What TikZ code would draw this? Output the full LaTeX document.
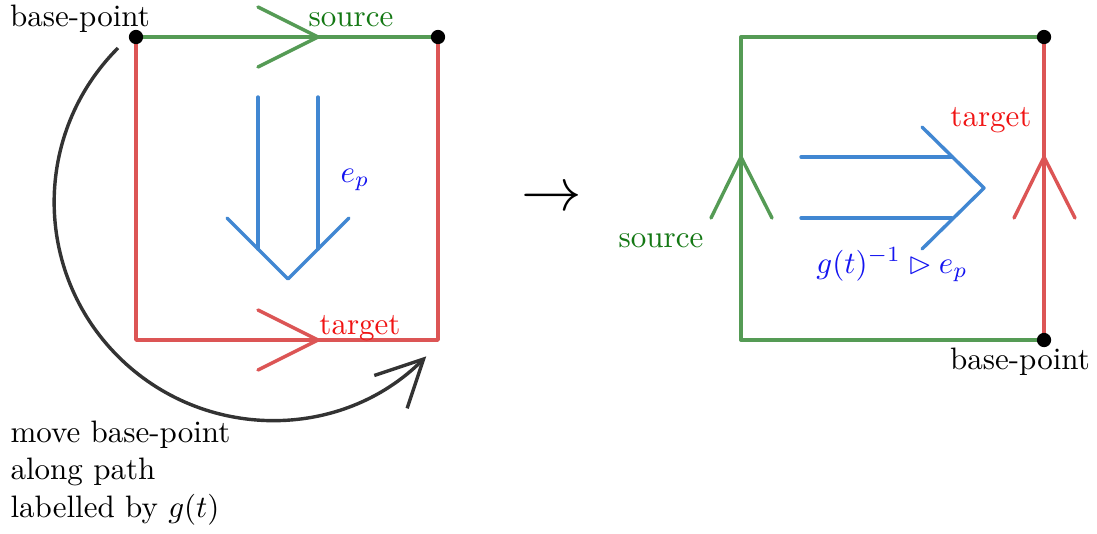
\documentclass[tikz,border=0pt]{standalone}
\usepackage{amssymb}
\usetikzlibrary{arrows.meta}
\definecolor{lgreen}{RGB}{85,155,85}
\definecolor{lred}{RGB}{220,85,85}
\definecolor{lblue}{RGB}{65,135,210}
\definecolor{tgreen}{RGB}{20,120,20}
\definecolor{tred}{RGB}{240,20,20}
\definecolor{tblue}{RGB}{20,20,240}
\begin{document}
\begin{tikzpicture}[x=0.3225pt,y=-0.3225pt,
  gline/.style={lgreen,line width=1.1pt,line cap=round,line join=round},
  rline/.style={lred,line width=1.1pt,line cap=round,line join=round},
  bline/.style={lblue,line width=1.1pt,line cap=round,line join=round},
  dot/.style={circle,fill=black,inner sep=0pt,minimum size=4.6pt},
  lbl/.style={inner sep=0pt}]
\useasboundingbox (0,0) rectangle (1097,533);
% ---------- left square ----------
\coordinate (A) at (136,37);
\coordinate (B) at (438,37);
\coordinate (C) at (438,340);
\coordinate (D) at (136,340);
\draw[rline] (A) -- (D) -- (C) -- (B);
\draw[gline] (A) -- (B);
\draw[gline] (258,7) -- (318,37) -- (258,67);
\draw[rline] (258,310) -- (318,340) -- (258,370);
% blue arrow down
\draw[bline] (258,97) -- (258,249);
\draw[bline] (318,97) -- (318,249);
\draw[bline] (227,218) -- (288,279) -- (349,218);
\node[dot] (dA) at (A) {};
\node[dot] (dB) at (B) {};
\node[lbl] (bp1) at (80,19) {base-point};
\node[lbl,text=tgreen] (src1) at (351,20) {source};
\node[lbl,text=tred] (tgt1) at (360,328) {target};
\node[lbl,text=tblue] (ep1) at (355,180) {$e_p$};
% curved arrow (semicircle)
\coordinate (arcS) at (118,48);
\draw[black!80,line width=1.1pt,-{Straight Barb[length=15pt,width=15pt,line width=1.1pt]}]
  (arcS) arc[start angle=225,end angle=45,radius=218];
\node[lbl,align=left,anchor=west] (mv) at (10,473)
  {move base-point\\along path\\labelled by $g(t)$};
% middle arrow
\node[lbl,scale=1.95] (to) at (552,199) {$\to$};
% ---------- right square ----------
\coordinate (E) at (741,37);
\coordinate (F) at (1044,37);
\coordinate (G) at (1044,340);
\coordinate (H) at (741,340);
\draw[rline] (F) -- (G);
\draw[gline] (F) -- (E) -- (H) -- (G);
\draw[gline] (711,218) -- (741,157) -- (772,218);
\draw[rline] (1014,218) -- (1044,157) -- (1075,218);
\draw[bline] (801,157) -- (952,157);
\draw[bline] (801,218) -- (952,218);
\draw[bline] (922,127) -- (984,188) -- (922,249);
\node[dot] (dF) at (F) {};
\node[dot] (dG) at (G) {};
\node[lbl,text=tred] (tgt2) at (991,120) {target};
\node[lbl,text=tgreen] (src2) at (661,241) {source};
\node[lbl,text=tblue] (ep2) at (892,265) {$g(t)^{-1}\rhd e_p$};
\node[lbl] (bp2) at (1020,362) {base-point};
\end{tikzpicture}
\end{document}
